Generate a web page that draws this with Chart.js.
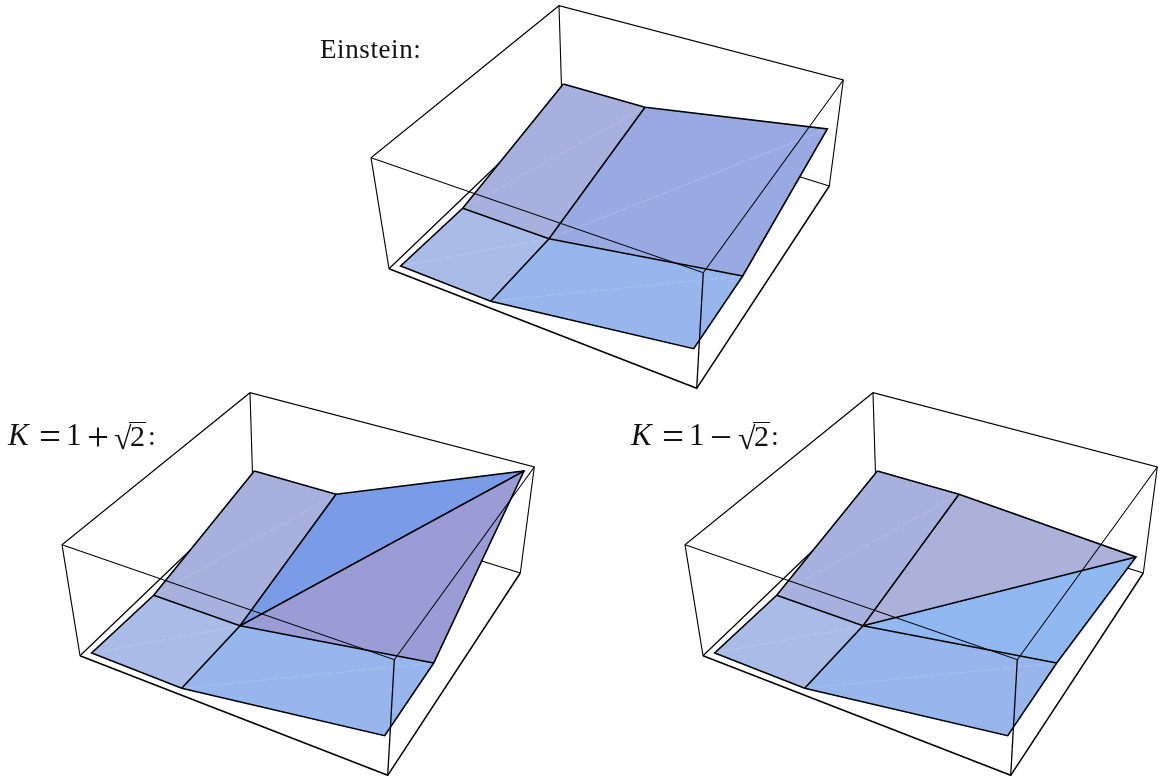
<!DOCTYPE html>
<html>
<head>
<meta charset="utf-8">
<title>Einstein and K surfaces</title>
<script src="https://cdn.jsdelivr.net/npm/chart.js@4"></script>
<style>
    html, body { margin: 0; padding: 0; background: #fff; overflow: hidden; }
    body { position: relative; width: 1159px; height: 776px; }
    canvas { position: absolute; }
    .label {
        position: absolute;
        font-family: "Liberation Serif", serif;
        font-size: 27px;
        line-height: 30px;
        color: #111;
        white-space: nowrap;
    }
    .formula { position: absolute; top: 421px; height: 32px; width: 150px; font-family: "Liberation Serif", serif; font-size: 28px; line-height: 30px; color: #111; }
    .formula span { position: absolute; top: 0; line-height: 30px; }
    .formula .sym { font-size: 31px; font-style: italic; top: -1px; }
    .formula .num { font-size: 31px; top: -1px; }
    .formula .op { font-size: 39px; top: 1px; }
    .formula .rad { font-size: 32px; top: 2px; }
    .formula .root { border-top: 1.4px solid #111; font-size: 30px; top: 1px; line-height: 26px; height: 26px; padding: 0 1px; }
</style>
</head>
<body>
<canvas id="einsteinPlot" width="500" height="395" style="left:359px;top:-2px"></canvas>
<canvas id="plusPlot" width="500" height="395" style="left:50px;top:385px"></canvas>
<canvas id="minusPlot" width="500" height="395" style="left:673px;top:385px"></canvas>

<div class="label" style="left:320px;top:34px;letter-spacing:.6px">Einstein:</div>
<div class="formula" style="left:8px"><span class="sym" style="left:0">K</span><span class="op" style="left:31px">=</span><span class="num" style="left:58px">1</span><span class="op" style="left:79px">+</span><span class="rad" style="left:106px">√</span><span class="root" style="left:121px">2</span><span style="left:140px">:</span></div>
<div class="formula" style="left:631px"><span class="sym" style="left:0">K</span><span class="op" style="left:31px">=</span><span class="num" style="left:58px">1</span><span class="op" style="left:79px">−</span><span class="rad" style="left:107px">√</span><span class="root" style="left:122px">2</span><span style="left:140px">:</span></div>

<script>
// --- BOUNDING BOX (same for all three plots) ---
const backTop = [200, 7.7];
const rightTop = [484.3, 82];
const leftTop = [12, 159.7];
const frontTop = [344.3, 274.7];
const backBottom = [203, 105];
const rightBottom = [470.3, 188];
const leftBottom = [30, 270.7];
const frontBottom = [337.7, 390.3];

// --- SURFACE GRID POINTS ---
const gridBackLeft = [204.3, 86];
const gridBackMid = [286, 109.3];
const gridLeftMid = [103.7, 210.3];
const gridCentre = [190, 240.7];
const gridRightMid = [383.7, 278];
const gridLeftFront = [41.7, 268];
const gridFrontMid = [131.7, 303.3];
const gridFrontRight = [334.7, 350.7];

// The far right corner is the only point which moves between plots
const cornerEinstein = [468.3, 131];
const cornerPlus = [474, 86];
const cornerMinus = [463, 172];

// Face colours
const colorBackLeft = '#a8b1de';
const colorFrontLeft = '#a9bce7';
const colorFrontRight = '#96b6ed';
const einsteinColors = ['#99a9e1', '#99a9e1'];
const plusColors = ['#7a9be6', '#9a9cd5'];
const minusColors = ['#acb1da', '#90b8f1'];

const pts = (...vertices) => vertices.map(([x, y]) => ({ x, y }));

function lineSet(vertices, width) {
    return { data: pts(...vertices), showLine: true, fill: false, borderColor: '#000', borderWidth: width, pointRadius: 0 };
}

function faceSet(vertices, color) {
    return { data: pts(...vertices, vertices[0]), showLine: true, fill: 'shape', backgroundColor: color, borderColor: color, borderWidth: 0.5, pointRadius: 0 };
}

function seamSet(from, to) {
    return { data: pts(from, to), showLine: true, fill: false, borderColor: 'rgba(255,255,255,0.22)', borderWidth: 0.7, borderDash: [9, 2], pointRadius: 0 };
}

function drawPlot(canvasId, corner, colors, split) {
    // listed back to front, reversed below as Chart.js paints the first dataset last
    const layers = [
        lineSet([backTop, backBottom], 1.1),
        lineSet([leftBottom, backBottom, rightBottom], 1.2),
        lineSet([leftBottom, frontBottom, rightBottom], 1.5),

        faceSet([gridBackLeft, gridBackMid, gridCentre, gridLeftMid], colorBackLeft),
        faceSet([gridLeftMid, gridCentre, gridFrontMid, gridLeftFront], colorFrontLeft),
        faceSet([gridCentre, gridRightMid, gridFrontRight, gridFrontMid], colorFrontRight),
        faceSet([gridBackMid, corner, gridCentre], colors[0]),
        faceSet([gridCentre, corner, gridRightMid], colors[1]),

        seamSet(gridLeftFront, gridCentre),
        seamSet(gridFrontMid, gridRightMid),
        seamSet(gridLeftMid, gridBackMid),

        lineSet([gridBackLeft, gridBackMid, corner, gridRightMid, gridFrontRight, gridFrontMid, gridLeftFront, gridLeftMid, gridBackLeft], 1.6),
        lineSet([gridBackMid, gridCentre, gridFrontMid], 1.6),
        lineSet([gridLeftMid, gridCentre, gridRightMid], 1.6),

        lineSet([leftBottom, leftTop, backTop, rightTop, rightBottom], 1.1),
        lineSet([leftTop, frontTop, rightTop], 1.1),
        lineSet([frontTop, frontBottom], 1.3)
    ];
    if (split) {
        layers.splice(11, 0, lineSet([gridCentre, corner], 1.6));
    } else {
        layers.splice(11, 0, seamSet(gridCentre, corner));
    }

    return new Chart(document.getElementById(canvasId).getContext('2d'), {
        type: 'scatter',
        data: { datasets: layers.reverse() },
        options: {
            responsive: false,
            animation: false,
            layout: { padding: 0 },
            plugins: { legend: { display: false }, tooltip: { enabled: false } },
            scales: {
                x: { type: 'linear', display: false, min: 0, max: 500 },
                y: { type: 'linear', display: false, min: 0, max: 395, reverse: true }
            }
        }
    });
}

drawPlot('einsteinPlot', cornerEinstein, einsteinColors, false);
drawPlot('plusPlot', cornerPlus, plusColors, true);
drawPlot('minusPlot', cornerMinus, minusColors, true);
</script>
</body>
</html>
